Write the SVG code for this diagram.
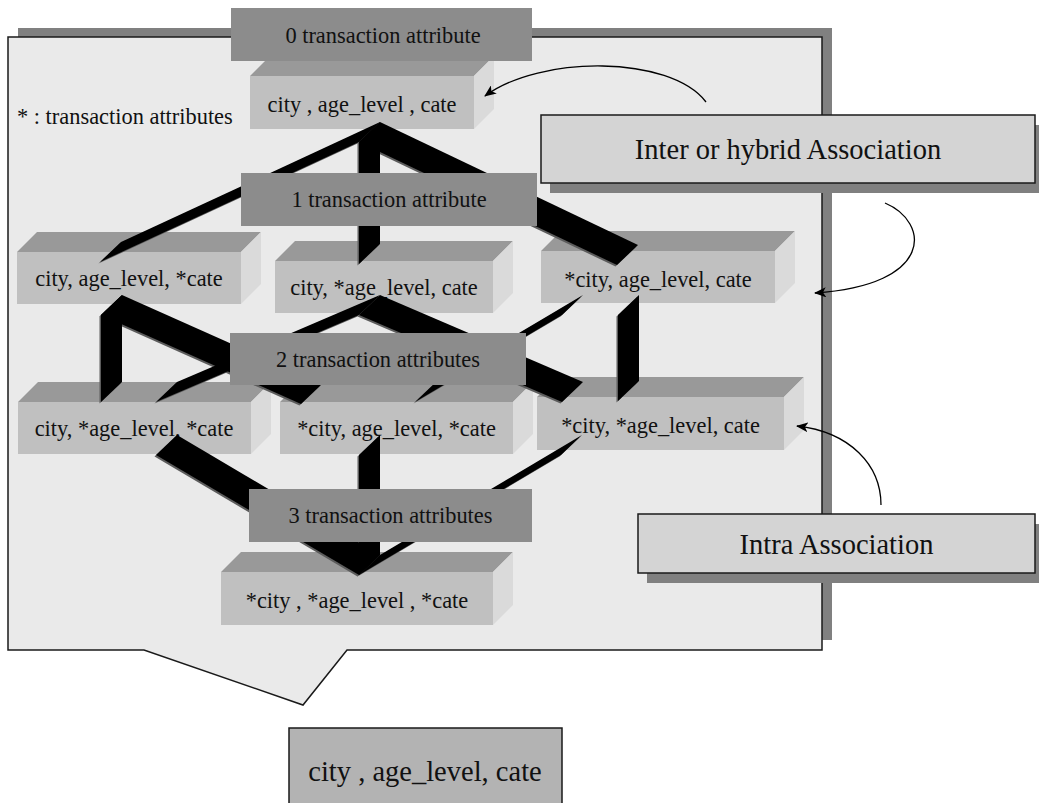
<svg xmlns="http://www.w3.org/2000/svg" xmlns:xlink="http://www.w3.org/1999/xlink" width="1039" height="803" viewBox="0 0 1039 803" font-family="'Liberation Serif', 'DejaVu Serif', serif">
  <style>
    text { font-family: 'Liberation Serif', 'DejaVu Serif', serif; }
    .txt { fill: #111; text-anchor: middle; }
    .small { font-size: 22.4px; }
    .big { font-size: 28.5px; }
    .front { fill: #c0c0c0; }
    .top { fill: #999999; }
    .side { fill: #dadada; }
    .level { fill: #8c8c8c; }
    .shadow { fill: #808080; }
    .callout { fill: #d4d4d4; stroke: #1a1a1a; stroke-width: 1.5; }
    .band { fill: #000; }
    .band-edge { fill: #5c5c5c; }
    .curve { fill: none; stroke: #000; stroke-width: 1.3; marker-end: url(#arrow); }
  </style>
  <defs>
    <marker id="arrow" viewBox="0 0 12 10" refX="11" refY="5" markerWidth="12" markerHeight="10" orient="auto" markerUnits="userSpaceOnUse">
      <path d="M0,0 L12,5 L0,10 L3,5 Z" fill="#000"/>
    </marker>
    <!-- ribbon-like lattice links between levels -->
    <g id="bands">
      <polygon points="380,122 121,242 100,262 359,142"/>
      <polygon points="380,122 380,244 359,264 359,142"/>
      <polygon points="380,122 638,245 617,265 359,142"/>
      <polygon points="122,295 122,382 101,402 101,315"/>
      <polygon points="122,295 322,384 301,404 101,315"/>
      <polygon points="380,295 177,382 156,402 359,315"/>
      <polygon points="380,295 583,382 562,402 359,315"/>
      <polygon points="583,295 436,382 415,402 562,315"/>
      <polygon points="639,295 639,381 618,401 618,315"/>
      <polygon points="177,435 380,555 359,575 156,455"/>
      <polygon points="380,435 380,555 359,575 359,455"/>
      <polygon points="582,435 380,555 359,575 561,455"/>
    </g>
  </defs>

  <!-- background panel with drop shadow and pointer -->
  <g id="panel">
    <rect class="shadow" x="18" y="28" width="814" height="612"/>
    <path d="M8,37 L822,37 L822,650 L347,650 L303,705 L144,650 L8,650 Z" fill="#eaeaea" stroke="#1a1a1a" stroke-width="1.5"/>
    <text class="txt small" x="17" y="124" style="text-anchor:start" font-family="Liberation Serif">* : transaction attributes</text>
  </g>

  <!-- attribute-set boxes -->
  <g id="node-n0">
    <polygon class="top" points="250,76 270,56 494,56 474,76"/>
    <polygon class="side" points="474,76 494,56 494,109 474,129"/>
    <rect class="front" x="250" y="76" width="224" height="53"/>
    <text class="txt small" x="362" y="111.5" font-family="Liberation Serif">city , age_level , cate</text>
  </g>
  <g id="node-a">
    <polygon class="top" points="17,252 37,232 261,232 241,252"/>
    <polygon class="side" points="241,252 261,232 261,284 241,304"/>
    <rect class="front" x="17" y="252" width="224" height="52"/>
    <text class="txt small" x="129" y="286" font-family="Liberation Serif">city, age_level, *cate</text>
  </g>
  <g id="node-b">
    <polygon class="top" points="275,261 295,241 513,241 493,261"/>
    <polygon class="side" points="493,261 513,241 513,293 493,313"/>
    <rect class="front" x="275" y="261" width="218" height="52"/>
    <text class="txt small" x="384" y="295" font-family="Liberation Serif">city, *age_level, cate</text>
  </g>
  <g id="node-c">
    <polygon class="top" points="541,251 561,231 795,231 775,251"/>
    <polygon class="side" points="775,251 795,231 795,283 775,303"/>
    <rect class="front" x="541" y="251" width="234" height="52"/>
    <text class="txt small" x="658" y="287" font-family="Liberation Serif">*city, age_level, cate</text>
  </g>
  <g id="node-d">
    <polygon class="top" points="18,402 38,382 271,382 251,402"/>
    <polygon class="side" points="251,402 271,382 271,434 251,454"/>
    <rect class="front" x="18" y="402" width="233" height="52"/>
    <text class="txt small" x="134" y="436" font-family="Liberation Serif">city, *age_level, *cate</text>
  </g>
  <g id="node-e">
    <polygon class="top" points="280,402 300,382 533,382 513,402"/>
    <polygon class="side" points="513,402 533,382 533,434 513,454"/>
    <rect class="front" x="280" y="402" width="233" height="52"/>
    <text class="txt small" x="396.5" y="436" font-family="Liberation Serif">*city, age_level, *cate</text>
  </g>
  <g id="node-f">
    <polygon class="top" points="537,397 557,377 804,377 784,397"/>
    <polygon class="side" points="784,397 804,377 804,430 784,450"/>
    <rect class="front" x="537" y="397" width="247" height="53"/>
    <text class="txt small" x="660.5" y="433" font-family="Liberation Serif">*city, *age_level, cate</text>
  </g>
  <g id="node-g">
    <polygon class="top" points="221,572 241,552 513,552 493,572"/>
    <polygon class="side" points="493,572 513,552 513,605 493,625"/>
    <rect class="front" x="221" y="572" width="272" height="53"/>
    <text class="txt small" x="357" y="608" font-family="Liberation Serif">*city , *age_level , *cate</text>
  </g>

  <!-- connectors: lattice links and association arrows -->
  <g id="connectors">
    <use xlink:href="#bands" class="band-edge" transform="translate(-1.5,1.5)"/>
    <use xlink:href="#bands" class="band"/>
    <path class="curve" d="M706,102 C670,55 540,55 485,96"/>
    <path class="curve" d="M885,203 C930,222 935,285 815,293"/>
    <path class="curve" d="M881,505 C881,465 850,432 797,426"/>
  </g>

  <!-- level headers -->
  <g id="level-0">
    <rect class="level" x="231" y="8" width="301" height="53"/>
    <text class="txt small" x="383" y="43" font-family="Liberation Serif">0 transaction attribute</text>
  </g>
  <g id="level-1">
    <rect class="level" x="241" y="173" width="296" height="53"/>
    <text class="txt small" x="389" y="207" font-family="Liberation Serif">1 transaction attribute</text>
  </g>
  <g id="level-2">
    <rect class="level" x="230" y="333" width="296" height="52"/>
    <text class="txt small" x="378" y="367" font-family="Liberation Serif">2 transaction attributes</text>
  </g>
  <g id="level-3">
    <rect class="level" x="249" y="489" width="283" height="53"/>
    <text class="txt small" x="390.5" y="523" font-family="Liberation Serif">3 transaction attributes</text>
  </g>

  <!-- association captions -->
  <g id="inter-association">
    <rect class="shadow" x="550" y="125" width="495" height="68"/>
    <rect class="callout" x="541" y="115" width="494" height="68"/>
    <text class="txt big" x="788" y="159" font-family="Liberation Serif">Inter or hybrid Association</text>
  </g>
  <g id="intra-association">
    <rect class="shadow" x="647" y="524" width="398" height="59"/>
    <rect class="callout" x="638" y="514" width="397" height="59"/>
    <text class="txt big" x="836.5" y="554" font-family="Liberation Serif">Intra Association</text>
  </g>

  <!-- base attribute set -->
  <g id="base-set">
    <rect x="289" y="728" width="273" height="90" fill="#b3b3b3" stroke="#1a1a1a" stroke-width="1.5"/>
    <text class="txt big" x="425" y="781" font-family="Liberation Serif">city , age_level, cate</text>
  </g>
</svg>
